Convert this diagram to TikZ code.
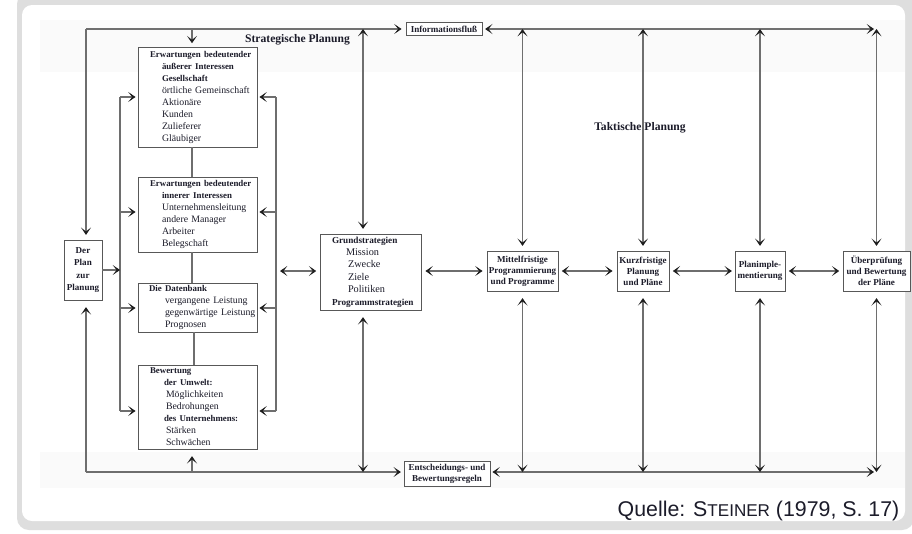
\documentclass[tikz,border=0pt]{standalone}
\usepackage{fontspec}
\setmainfont{Liberation Serif}
\newfontfamily\quellefont{Liberation Sans}
\usetikzlibrary{arrows.meta}

\definecolor{framec}{HTML}{DEDEDE}
\definecolor{bandc}{HTML}{FAFAFA}
\definecolor{linec}{HTML}{6E6E6E}
\definecolor{boxc}{HTML}{585858}
\definecolor{tipc}{HTML}{1E1E1E}
\definecolor{textc}{HTML}{1C1C2A}

\newcommand\bxfont{\fontsize{7.35pt}{9pt}\selectfont}
\newcommand\gsfont{\fontsize{7.7pt}{9.3pt}\selectfont}
\newcommand\tkfont{\fontsize{6.8pt}{8.3pt}\selectfont}
\newcommand\plfont{\fontsize{6.8pt}{9.2pt}\selectfont}
\newcommand\hdfont{\fontsize{8.7pt}{10pt}\selectfont\bfseries}
\newcommand\indt[1]{\hspace*{#1pt}}
% bold heading line inside a list box
\newcommand\bl[1]{{\fontsize{6.65pt}{9pt}\selectfont\bfseries #1}}
\newcommand\bg[1]{{\fontsize{6.9pt}{9.3pt}\selectfont\bfseries #1}}

\tikzset{
  px/.style 2 args={minimum width=#1*0.75pt, minimum height=#2*0.75pt},
  fbox/.style={draw=boxc, line width=0.7pt, inner sep=0pt, text=textc, fill=white},
  listbox/.style 2 args={fbox, align=left, font=\bxfont, text width=#1*0.75pt,
    minimum width=#1*0.75pt, minimum height=#2*0.75pt},
  ctrbox/.style={fbox, align=center, font=\tkfont\bfseries},
  conn/.style={draw=linec, line width=0.85pt},
  heading/.style={text=textc, font=\hdfont},
}

\begin{document}
\begin{tikzpicture}[x=0.75pt, y=-0.75pt,
  >={Stealth[length=5.5pt, width=7.5pt, inset=3pt, color=tipc]}]

% page, frame and shaded bands
\useasboundingbox (0,0) rectangle (912,533);
\fill[white] (0,0) rectangle (912,533);
\fill[framec, rounded corners=9pt] (17,-8) rectangle (914,530);
\fill[white, rounded corners=7.5pt] (22,5) rectangle (905,521);
\fill[bandc] (40,20) rectangle (905,72);
\fill[bandc] (40,452) rectangle (905,488);

% headings
\node[heading] (SP) at (297.5,40) {Strategische Planung};
\node[heading] (TP) at (640,128) {Taktische Planung};

% strategic boxes
\node[listbox={119}{100}] (B1) at (197.5,97) {%
\indt{9}\bl{Erwartungen bedeutender}\\
\indt{18}\bl{äußerer Interessen}\\
\indt{18}\bl{Gesellschaft}\\
\indt{18}örtliche Gemeinschaft\\
\indt{18}Aktionäre\\
\indt{18}Kunden\\
\indt{18}Zulieferer\\
\indt{18}Gläubiger};

\node[listbox={119}{75}] (B2) at (197.5,214.5) {%
\indt{9}\bl{Erwartungen bedeutender}\\
\indt{18}\bl{innerer Interessen}\\
\indt{18}Unternehmensleitung\\
\indt{18}andere Manager\\
\indt{18}Arbeiter\\
\indt{18}Belegschaft};

\node[listbox={119}{49}] (B3) at (197.5,307.5) {%
\indt{8.25}\bl{Die Datenbank}\\
\indt{20.25}vergangene Leistung\\
\indt{20.25}gegenwärtige Leistung\\
\indt{20.25}Prognosen};

\node[listbox={119}{84}] (B4) at (197.5,407) {%
\indt{9}\bl{Bewertung}\\
\indt{19.5}\bl{der Umwelt:}\\
\indt{21}Möglichkeiten\\
\indt{21}Bedrohungen\\
\indt{19.5}\bl{des Unternehmens:}\\
\indt{21}Stärken\\
\indt{21}Schwächen};

\node[listbox={101}{76}, font=\gsfont] (Grund) at (370.5,272) {%
\indt{9}\bg{Grundstrategien}\\
\indt{19.5}Mission\\
\indt{21}Zwecke\\
\indt{21}Ziele\\
\indt{21}Politiken\\
\indt{9}\bg{Programmstrategien}};

\node[ctrbox, px={38}{60}, font=\plfont\bfseries] (Plan) at (83,270) {Der\\Plan\\zur\\Planung};

% tactical boxes
\node[ctrbox, px={71}{40}] (M) at (522.5,271) {Mittelfristige\\Programmierung\\und Programme};
\node[ctrbox, px={52}{40}] (K) at (643,271) {Kurzfristige\\Planung\\und Pläne};
\node[ctrbox, px={50}{40}] (P) at (760,271) {Planimple-\\mentierung};
\node[ctrbox, px={67}{40}] (U) at (876.5,271) {Überprüfung\\und Bewertung\\der Pläne};

% flow boxes
\node[ctrbox, px={76}{13}] (Info) at (444,29) {Informationsfluß};
\node[ctrbox, px={86}{25}] (Entsch) at (447,474) {Entscheidungs- und\\Bewertungsregeln};

% corner and junction points
\coordinate (TL) at (86,29);
\coordinate (BL) at (86,472);
\coordinate (TR) at (874,29);
\coordinate (BR) at (874,472);
\coordinate (T1) at (192,29);
\coordinate (B4x) at (192,472);
\coordinate (D3) at (194,0);
\coordinate (TG) at (363,29);
\coordinate (BG) at (363,472);
\coordinate (L1) at (120,97);
\coordinate (L2) at (120,212);
\coordinate (L3) at (120,308);
\coordinate (L4) at (120,411);
\coordinate (R1) at (276,97);
\coordinate (R2) at (276,212);
\coordinate (R3) at (276,308);
\coordinate (R4) at (276,411);
\coordinate (RG) at (276,271);

% links between the strategic boxes
\draw[conn] (B1.south -| T1) -- (B2.north -| T1);
\draw[conn] (B2.south -| T1) -- (B3.north -| T1);
\draw[conn] (B3.south -| D3) -- (B4.north -| D3);

% feedback lines
\draw[conn] (L1) -- (L4);
\draw[conn] (R1) -- (R4);
\foreach \c/\b in {L1/B1, L2/B2, L3/B3, L4/B4}
  \draw[conn, ->, shorten >=1.5pt] (\c) -- (\c -| \b.west);
\foreach \c/\b in {R1/B1, R2/B2, R3/B3, R4/B4}
  \draw[conn, ->, shorten >=1.5pt] (\c) -- (\c -| \b.east);
\draw[conn, ->] (Plan.east) -- (Plan.east -| L1);
\draw[conn, <->, shorten <=3pt, shorten >=2.5pt] (RG) -- (RG -| Grund.west);

% information flow (top)
\draw[conn, ->, shorten >=3pt] (TL) -- (Info.west);
\draw[conn, <->, shorten <=2pt] (Info.east) -- (TR);
\draw[conn, ->, shorten >=3.5pt] (TL) -- (TL |- Plan.north);
\draw[conn, ->, shorten >=2.5pt] (T1) -- (T1 |- B1.north);
\draw[conn, <->, shorten >=3.5pt] (TG) -- (TG |- Grund.north);
\foreach \b in {M, K, P, U}
  \draw[conn, <->, shorten >=3.5pt] (\b.north |- TL) -- (\b.north);

% decision rules (bottom)
\draw[conn, ->, shorten >=2pt] (BL) -- (Entsch.west |- BL);
\draw[conn, <->, shorten <=1.5pt] (Entsch.east |- BL) -- (BR);
\draw[conn, ->, shorten >=5pt] (BL) -- (BL |- Plan.south);
\draw[conn, ->, shorten >=5pt] (B4x) -- (B4x |- B4.south);
\draw[conn, <->, shorten <=5pt] (TG |- Grund.south) -- (BG);
\foreach \b in {M, K, P, U}
  \draw[conn, <->, shorten <=5pt] (\b.south) -- (\b.south |- BL);

% horizontal chain
\draw[conn, <->, shorten <=3pt, shorten >=3pt] (Grund.east |- M.west) -- (M.west);
\draw[conn, <->, shorten <=2.5pt, shorten >=3pt] (M.east) -- (K.west);
\draw[conn, <->, shorten <=2.5pt, shorten >=2pt] (K.east) -- (P.west);
\draw[conn, <->, shorten <=2.5pt, shorten >=2.5pt] (P.east) -- (U.west);

% source
\node[anchor=east, text=textc, font=\quellefont\fontsize{16pt}{18pt}\selectfont] (Q) at (904,511)
  {Quelle: S{\fontsize{12.8pt}{14pt}\selectfont TEINER} (1979, S.~17)};

\end{tikzpicture}
\end{document}
